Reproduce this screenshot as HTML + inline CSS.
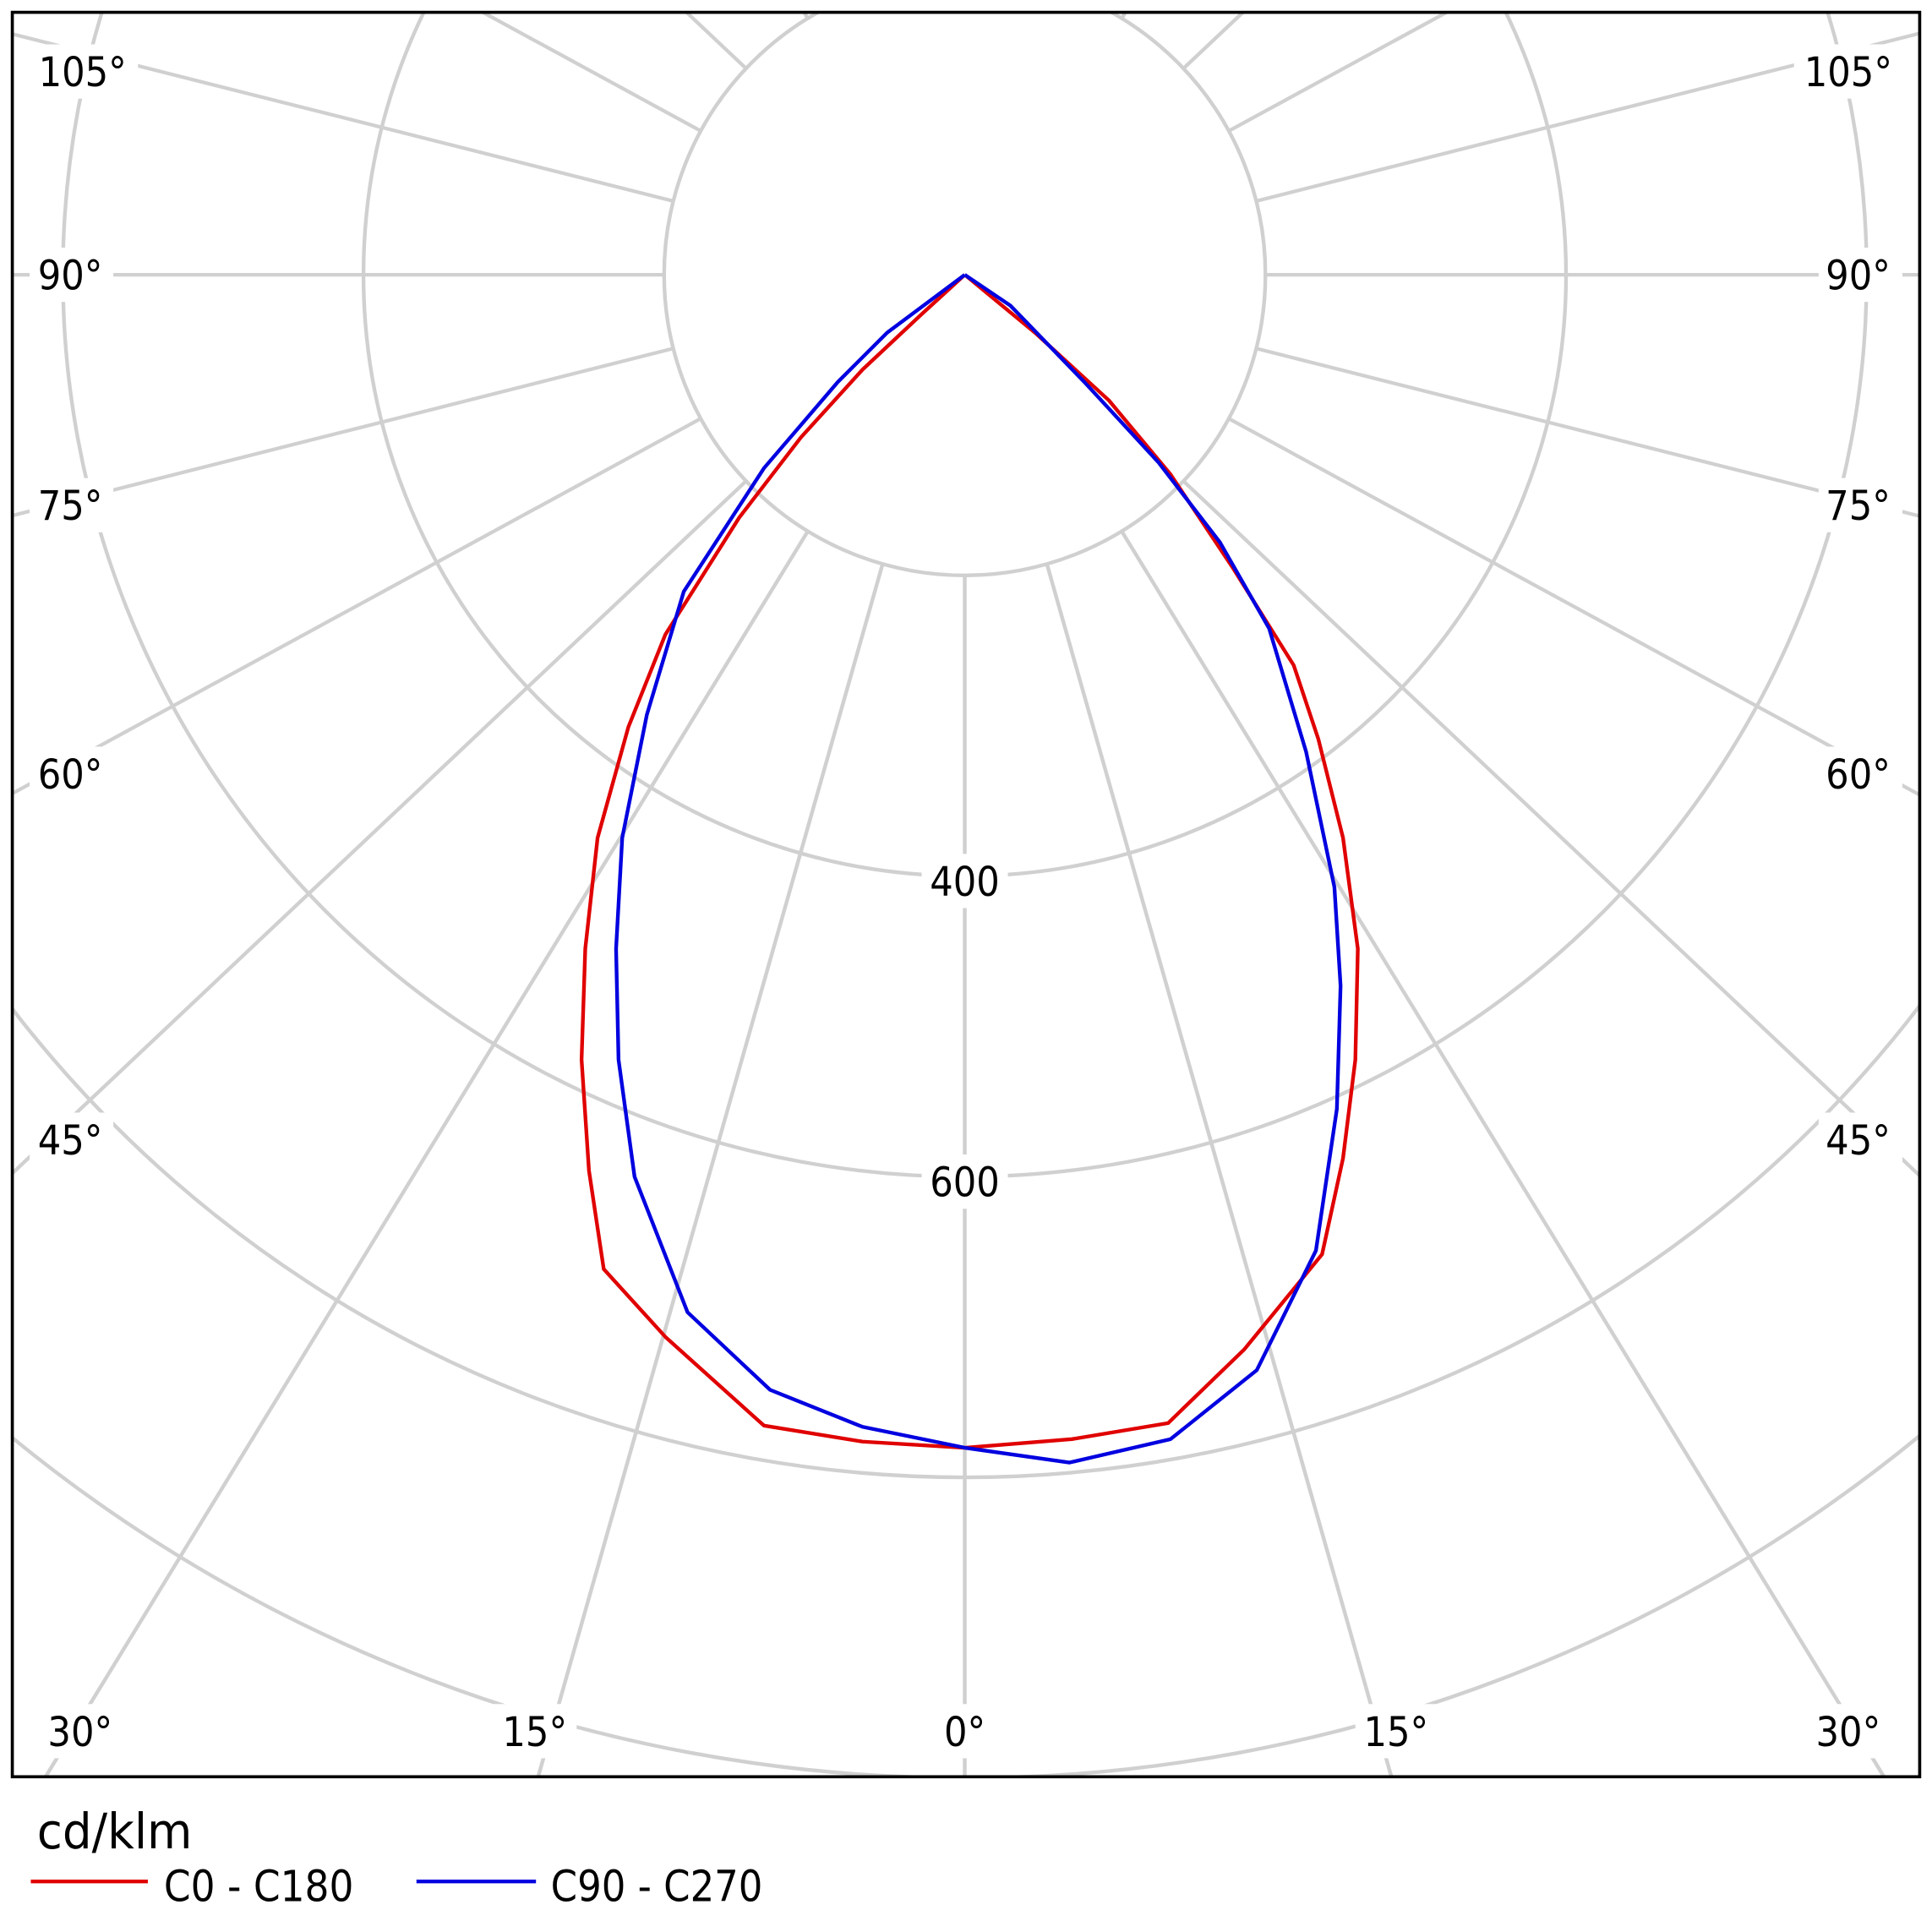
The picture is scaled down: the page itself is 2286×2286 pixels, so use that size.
<!DOCTYPE html>
<html><head><meta charset="utf-8"><style>html,body{margin:0;padding:0;background:#fff;overflow:hidden;width:2286px;height:2286px}svg{display:block;position:absolute;left:0;top:0}</style></head>
<body>
<svg width="2286" height="2286" viewBox="0 0 1568 1568" xmlns="http://www.w3.org/2000/svg" font-family="'DejaVu Sans Condensed','Liberation Sans',sans-serif">
<defs><clipPath id="c"><rect x="10" y="10" width="1548" height="1432"/></clipPath></defs>
<rect width="1568" height="1568" fill="#fff"/>
<g clip-path="url(#c)" stroke="#d0d0d0" stroke-width="3" fill="none">
<g transform="translate(783,223)">
<circle r="488"/><circle r="732"/><circle r="976"/><circle r="1220"/><circle r="1464"/>
</g>
<g transform="translate(783,223) scale(1.06,1)" stroke-width="2.9">
<g id="l"><line x1="0" y1="0" x2="0" y2="2200"/></g>
<use href="#l" transform="rotate(15)"/><use href="#l" transform="rotate(30)"/><use href="#l" transform="rotate(45)"/><use href="#l" transform="rotate(60)"/><use href="#l" transform="rotate(75)"/><use href="#l" transform="rotate(90)"/><use href="#l" transform="rotate(105)"/><use href="#l" transform="rotate(120)"/><use href="#l" transform="rotate(135)"/><use href="#l" transform="rotate(150)"/><use href="#l" transform="rotate(165)"/><use href="#l" transform="rotate(180)"/>
<use href="#l" transform="rotate(-15)"/><use href="#l" transform="rotate(-30)"/><use href="#l" transform="rotate(-45)"/><use href="#l" transform="rotate(-60)"/><use href="#l" transform="rotate(-75)"/><use href="#l" transform="rotate(-90)"/><use href="#l" transform="rotate(-105)"/><use href="#l" transform="rotate(-120)"/><use href="#l" transform="rotate(-135)"/><use href="#l" transform="rotate(-150)"/><use href="#l" transform="rotate(-165)"/>
</g>
<circle cx="783" cy="223" r="244" fill="#fff"/>
</g>
<g fill="#fff">
<rect x="24" y="36" width="88" height="44"/><rect x="1456" y="36" width="88" height="44"/>
<rect x="24" y="201" width="68" height="44"/><rect x="1476" y="201" width="68" height="44"/>
<rect x="24" y="388" width="68" height="44"/><rect x="1476" y="388" width="68" height="44"/>
<rect x="24" y="606" width="68" height="44"/><rect x="1476" y="606" width="68" height="44"/>
<rect x="24" y="903" width="68" height="44"/><rect x="1476" y="903" width="68" height="44"/>
<rect x="32" y="1383" width="68" height="44"/><rect x="400" y="1383" width="68" height="44"/><rect x="758" y="1383" width="52" height="44"/><rect x="1100" y="1383" width="68" height="44"/><rect x="1466" y="1383" width="68" height="44"/>
<rect x="748" y="693" width="70" height="44"/><rect x="748" y="937" width="70" height="44"/>
</g>
<g font-size="33" fill="#000" text-anchor="middle">
<text x="67" y="70">105°</text><text x="1500" y="70">105°</text>
<text x="57" y="235">90°</text><text x="1508" y="235">90°</text>
<text x="57" y="422">75°</text><text x="1508" y="422">75°</text>
<text x="57" y="640">60°</text><text x="1508" y="640">60°</text>
<text x="57" y="937">45°</text><text x="1508" y="937">45°</text>
<text x="65" y="1417">30°</text><text x="434" y="1417">15°</text><text x="783" y="1417">0°</text><text x="1133" y="1417">15°</text><text x="1500" y="1417">30°</text>
<text x="783" y="727">400</text><text x="783" y="971">600</text>
</g>
<g fill="none" stroke-width="3" stroke-linejoin="round">
<polyline stroke="#e00000" points="783,223 748,255 700,300 650,355 600,420 540,515 510,590 485,680 475,770 472,860 478,950 490,1030 540,1085 620,1157 700,1170 783,1175 870,1168 948,1155 1010,1095 1073,1018 1090,940 1100,860 1102,770 1090,680 1070,600 1050,540 1000,460 950,385 900,325 840,270 783,223"/>
<polyline stroke="#0000e0" points="783,223 720,270 680,310 620,380 555,480 525,580 505,680 500,770 502,860 515,955 558,1065 625,1128 700,1158 783,1175 868,1187 950,1168 1020,1112 1068,1015 1085,900 1088,800 1083,720 1060,610 1030,510 990,440 940,375 880,310 820,248 783,223"/>
</g>
<rect x="10" y="10" width="1548" height="1432" fill="none" stroke="#000" stroke-width="2.5"/>
<text x="30" y="1500" font-size="40" textLength="126" lengthAdjust="spacingAndGlyphs">cd/klm</text>
<line x1="25" y1="1527" x2="120" y2="1527" stroke="#e00000" stroke-width="3"/>
<text x="133" y="1543" font-size="35" textLength="154" lengthAdjust="spacingAndGlyphs">C0 - C180</text>
<line x1="338" y1="1527" x2="435" y2="1527" stroke="#0000e0" stroke-width="3"/>
<text x="447" y="1543" font-size="35" textLength="172" lengthAdjust="spacingAndGlyphs">C90 - C270</text>
</svg>
</body></html>
